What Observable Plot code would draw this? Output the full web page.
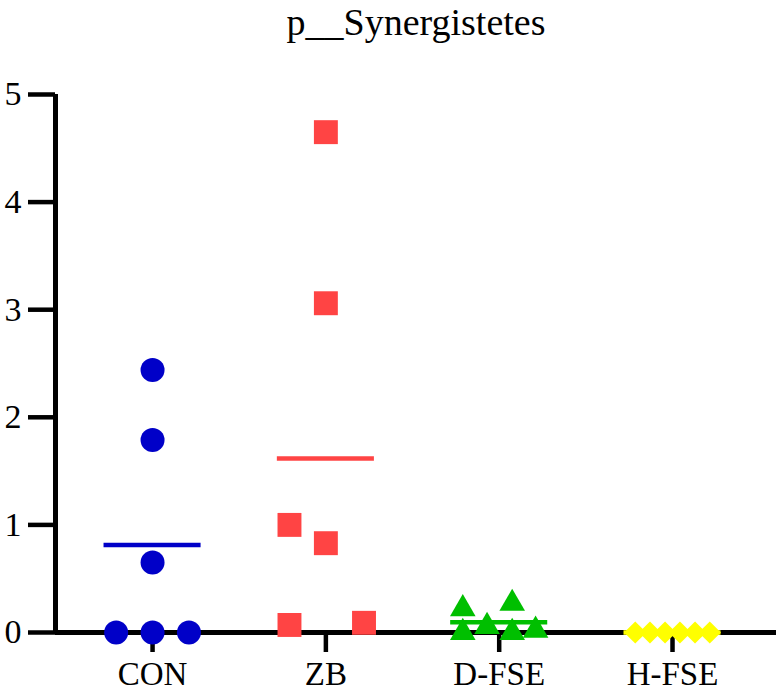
<!DOCTYPE html>
<html>
<head>
<meta charset="utf-8">
<script src="https://cdn.jsdelivr.net/npm/d3@7"></script>
<script src="https://cdn.jsdelivr.net/npm/@observablehq/plot@0.6"></script>
<style>
  body { margin: 0; background: #fff; }
  #title {
    font-family: "Liberation Serif", "Times New Roman", Times, serif;
    font-size: 38px; line-height: 44px; height: 44px; margin: 0 0 6px 0;
    padding-left: 55px; text-align: center; color: #000;
    width: 722px; white-space: nowrap;
  }
  #chart svg { display: block; }
</style>
</head>
<body>
<div id="title">p__Synergistetes</div>
<div id="chart"></div>
<script>
const categories = ["CON", "ZB", "D-FSE", "H-FSE"];
const colors = ["#0000C8", "#FF4444", "#00BF00", "#FFFF00"];
const symbols = ["circle", "square", "triangle", "diamond2"];

const conValues  = [2.44, 1.79, 0.65, 0.0, 0.0, 0.0];
const conOffsets = [0, 0, 0, -0.21, 0, 0.21];
const zbValues   = [4.65, 3.06, 1.0, 0.83, 0.07, 0.09];
const zbOffsets  = [0, 0, -0.21, 0, -0.21, 0.22];
const dfseValues  = [0.22, 0.055, 0.27, 0.0, 0.0, 0.02];
const dfseOffsets = [-0.21, -0.07, 0.075, -0.21, 0.075, 0.21];
const hfseValues  = [0, 0, 0, 0, 0, 0];
const hfseOffsets = [-0.215, -0.13, -0.043, 0.043, 0.13, 0.215];

const yTicks = [0, 1, 2, 3, 4, 5];

const groups = [
  {name: "CON", values: conValues, offsets: conOffsets},
  {name: "ZB", values: zbValues, offsets: zbOffsets},
  {name: "D-FSE", values: dfseValues, offsets: dfseOffsets},
  {name: "H-FSE", values: hfseValues, offsets: hfseOffsets}
];

const points = groups.flatMap(g => {
  const i = categories.indexOf(g.name);
  return g.values.map((v, j) => ({group: g.name, i, x: i + g.offsets[j], y: v}));
});
const means = groups.map(g => ({group: g.name, i: categories.indexOf(g.name), mean: d3.mean(g.values)}));

const xDomain = [-0.56, 3.6];
const sizeOf = {CON: 12, ZB: 13.5, "D-FSE": 9.5, "H-FSE": 10};
const serif = "'Liberation Serif', 'Times New Roman', Times, serif";

const plot = Plot.plot({
  width: 777,
  height: 645,
  marginLeft: 55,
  marginRight: 1,
  marginTop: 44,
  marginBottom: 63,
  style: {fontFamily: serif, fontSize: "34px", color: "#000", background: "#fff"},
  x: {domain: xDomain},
  y: {domain: [0, 5]},
  color: {domain: categories, range: colors},
  symbol: {domain: categories, range: symbols},
  marks: [
    Plot.axisY({ticks: yTicks, tickFormat: d3.format("d"), tickSize: 27, tickPadding: 7, strokeWidth: 4.5, fontSize: 34, fontFamily: serif, label: null}),
    Plot.axisX({ticks: [0, 1, 2, 3], tickFormat: i => categories[i], tickSize: 20, tickPadding: 9, strokeWidth: 4.5, fontSize: 33, fontFamily: serif, label: null}),
    Plot.ruleX([xDomain[0]], {stroke: "#000", strokeWidth: 5}),
    Plot.ruleY([0], {stroke: "#000", strokeWidth: 5}),
    Plot.ruleY(means, {y: "mean", x1: d => d.i - 0.28, x2: d => d.i + 0.28, stroke: "group", strokeWidth: 4.5}),
    ...categories.map(c => Plot.dot(points.filter(d => d.group === c), {
      x: "x", y: "y", symbol: "group", fill: "group", stroke: "none", r: sizeOf[c]
    }))
  ]
});
document.getElementById("chart").appendChild(plot);
</script>
</body>
</html>
